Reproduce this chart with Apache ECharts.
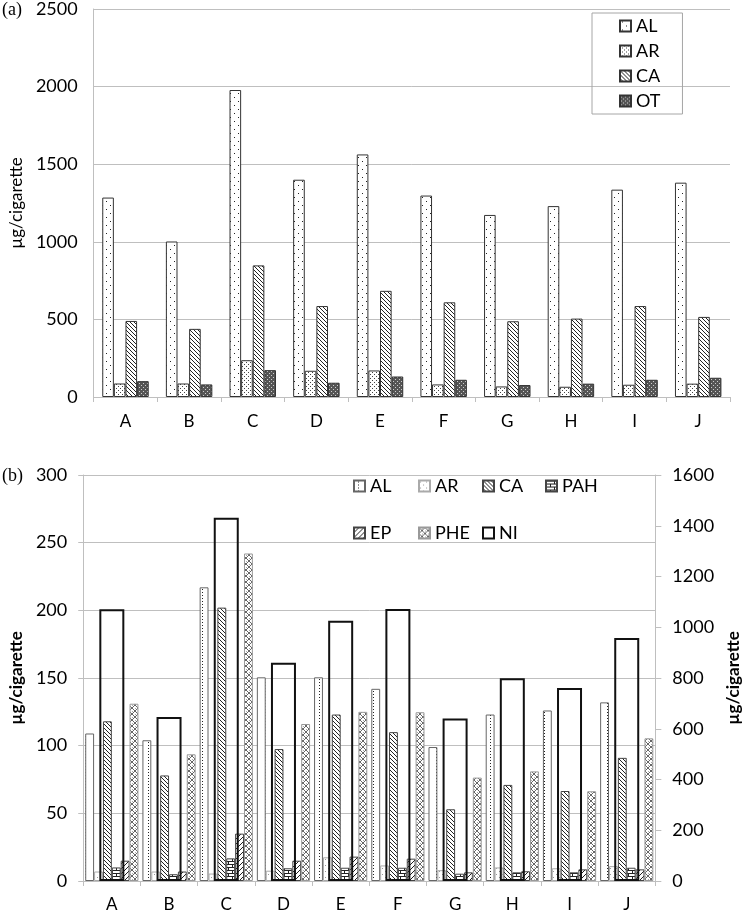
<!DOCTYPE html>
<html>
<head>
<meta charset="utf-8">
<script src="https://cdn.jsdelivr.net/npm/echarts@6/dist/echarts.min.js"></script>
<style>
html,body{margin:0;padding:0;background:#fff;}
#chart{width:750px;height:913px;}
</style>
</head>
<body>
<div id="chart"></div>
<script>
// ---------- data ----------
const categories = ['A','B','C','D','E','F','G','H','I','J'];

// panel (a)
const aAL = [1285, 1002, 1978, 1400, 1563, 1298, 1173, 1230, 1336, 1381];
const aAR = [87, 87, 237, 169, 171, 81, 68, 66, 79, 86];
const aCA = [490, 439, 848, 586, 684, 610, 488, 505, 586, 516];
const aOT = [102, 81, 173, 92, 132, 111, 77, 86, 111, 124];
const aTicks = [0, 500, 1000, 1500, 2000, 2500];

// panel (b)
const bAL  = [109, 104, 217, 150.5, 150.5, 142, 99, 123, 126, 132];
const bAR  = [7, 7, 5.5, 7.6, 17.5, 11.5, 8, 10, 9.4, 11];
const bCA  = [118, 78, 202, 97.5, 123, 110, 53, 71, 66.5, 91];
const bPAH = [10, 5, 16.7, 9.4, 9.8, 9.8, 5.4, 6.4, 6.4, 9.8];
const bEP  = [15, 7, 35, 15, 18, 16.5, 6.4, 7.2, 8.6, 8.6];
const bPHE = [131, 93.6, 242, 116, 125, 124.7, 76.4, 81, 66.3, 105.4];
const bNI  = [1071, 646, 1432, 860, 1026, 1072, 640, 799, 761, 958];
const bLeftTicks = [0, 50, 100, 150, 200, 250, 300];
const bRightTicks = [0, 200, 400, 600, 800, 1000, 1200, 1400, 1600];

// ---------- patterns ----------
function pat(w, h, draw) {
  const c = document.createElement('canvas');
  c.width = w; c.height = h;
  const g = c.getContext('2d');
  g.fillStyle = '#fff'; g.fillRect(0, 0, w, h);
  draw(g);
  return { image: c, repeat: 'repeat' };
}
const pAL_a = pat(8, 8, g => { g.fillStyle = '#222'; g.fillRect(2,1,1,1); g.fillRect(6,5,1,1); });
const pAR_a = pat(4, 4, g => { g.fillStyle = '#444'; g.fillRect(0,0,1,1); g.fillRect(2,2,1,1); });
const pCA = pat(4, 4, g => { g.fillStyle = '#222'; for (let i=0;i<4;i++) g.fillRect(i,i,1,1); });
const pOT = pat(4, 4, g => { g.fillStyle = '#555'; g.fillRect(0,0,4,4); g.fillStyle = '#ccc'; g.fillRect(1,1,1,1); g.fillRect(3,3,1,1); });
const pAL_b = pat(9, 3, g => { g.fillStyle = '#222'; g.fillRect(4,1,1,1); });
const pAR_b = pat(6, 6, g => { g.fillStyle = '#999'; g.fillRect(1,1,1,1); g.fillRect(4,4,1,1); });
const pPAH = pat(8, 6, g => { g.fillStyle = '#222'; g.fillRect(0,0,8,1); g.fillRect(0,3,8,1); g.fillRect(0,0,1,3); g.fillRect(4,3,1,3); });
const pEP = pat(5, 5, g => { g.fillStyle = '#222'; for (let i=0;i<5;i++) g.fillRect(4-i,i,1,1); });
const pPHE = pat(6, 6, g => {
  g.fillStyle = '#666';
  for (let i=0;i<6;i++) { g.fillRect(i,i,1,1); g.fillRect(5-i,i,1,1); }
  g.fillStyle = '#aaa';
  g.fillRect(3,0,1,1); g.fillRect(0,3,1,1);
});

// ---------- chart ----------
const FONT = 'Lato';
const gridColor = '#bfbfbf';
const plain = v => String(v);
const chart = echarts.init(document.getElementById('chart'), null, { renderer: 'canvas' });

function catAxis(gridIndex, margin) {
  return {
    type: 'category', gridIndex: gridIndex, data: categories,
    axisLine: { lineStyle: { color: gridColor, width: 1 } },
    axisTick: { show: true, length: 5, lineStyle: { color: gridColor } },
    axisLabel: { fontFamily: FONT, fontSize: 17, color: '#000', margin: margin }
  };
}

function barA(name, data, color) {
  return {
    type: 'bar', name: name, data: data, xAxisIndex: 0, yAxisIndex: 0,
    barGap: '0%', barCategoryGap: '27%',
    itemStyle: { color: color, borderColor: '#333', borderWidth: 1 }
  };
}
function barB(name, data, color, border) {
  return {
    type: 'bar', name: name + ' ', data: data, xAxisIndex: 1, yAxisIndex: 1,
    barGap: '0%', barCategoryGap: '7%',
    itemStyle: { color: color, borderColor: border, borderWidth: 1 }
  };
}

function legendB(name, left, top) {
  return {
    data: [name + ' '], left: left, top: top, padding: 0,
    icon: 'rect', itemWidth: 11, itemHeight: 11, selectedMode: false,
    formatter: n => n.trim(),
    textStyle: { fontFamily: FONT, fontSize: 18, color: '#000', lineHeight: 18 }
  };
}

const option = {
  animation: false,
  backgroundColor: '#fff',
  grid: [
    { left: 88, right: 20, top: 6, height: 391, containLabel: false },
    { left: 74, right: 78, top: 475, height: 406, containLabel: false }
  ],
  xAxis: [ catAxis(0, 16), catAxis(1, 15), Object.assign(catAxis(1, 15), { show: false }) ],
  yAxis: [
    {
      type: 'value', gridIndex: 0, min: aTicks[0], max: aTicks[aTicks.length-1], interval: 500,
      axisLine: { show: true, lineStyle: { color: gridColor } },
      axisTick: { show: false },
      splitLine: { lineStyle: { color: gridColor } },
      axisLabel: { fontFamily: FONT, fontSize: 18, color: '#000', margin: 16, formatter: plain },
      name: 'µg/cigarette', nameLocation: 'middle', nameGap: 62, nameRotate: 90,
      nameTextStyle: { fontFamily: FONT, fontSize: 17, color: '#000' }
    },
    {
      type: 'value', gridIndex: 1, position: 'left', min: bLeftTicks[0], max: bLeftTicks[bLeftTicks.length-1], interval: 50,
      axisLine: { show: true, lineStyle: { color: gridColor } },
      axisTick: { show: true, length: 5, lineStyle: { color: gridColor } },
      splitLine: { lineStyle: { color: gridColor } },
      axisLabel: { fontFamily: FONT, fontSize: 18, color: '#000', margin: 16, formatter: plain },
      name: 'µg/cigarette', nameLocation: 'middle', nameGap: 51, nameRotate: 90,
      nameTextStyle: { fontFamily: FONT, fontSize: 17, fontWeight: 'bold', color: '#000' }
    },
    {
      type: 'value', gridIndex: 1, position: 'right', min: bRightTicks[0], max: bRightTicks[bRightTicks.length-1], interval: 200,
      axisLine: { show: true, lineStyle: { color: gridColor } },
      axisTick: { show: true, length: 6, lineStyle: { color: gridColor } },
      splitLine: { show: false },
      axisLabel: { fontFamily: FONT, fontSize: 18, color: '#000', margin: 17, formatter: plain },
      name: 'µg/cigarette', nameLocation: 'middle', nameGap: 54, nameRotate: 90,
      nameTextStyle: { fontFamily: FONT, fontSize: 17, fontWeight: 'bold', color: '#000' }
    }
  ],
  legend: [
    {
      data: ['AL', 'AR', 'CA', 'OT'], orient: 'vertical', left: 592, top: 13,
      padding: [4, 22, 4, 27], itemGap: 7, icon: 'rect', itemWidth: 11, itemHeight: 11,
      selectedMode: false, borderColor: '#a6a6a6', borderWidth: 1,
      textStyle: { fontFamily: FONT, fontSize: 18, color: '#000', lineHeight: 18 }
    },
    legendB('AL', 353, 477), legendB('AR', 418, 477), legendB('CA', 482, 477), legendB('PAH', 545, 477),
    legendB('EP', 353, 524), legendB('PHE', 418, 524), legendB('NI', 482, 524)
  ],
  graphic: [
    { type: 'text', left: 2, top: 1, style: { text: '(a)', fontFamily: 'Liberation Serif', fontSize: 18, fill: '#000' } },
    { type: 'text', left: 2, top: 467, style: { text: '(b)', fontFamily: 'Liberation Serif', fontSize: 18, fill: '#000' } }
  ],
  series: [
    barA('AL', aAL, pAL_a),
    barA('AR', aAR, pAR_a),
    barA('CA', aCA, pCA),
    barA('OT', aOT, pOT),
    barB('AL', bAL, pAL_b, '#666'),
    barB('AR', bAR, pAR_b, '#aaa'),
    barB('CA', bCA, pCA, '#444'),
    barB('PAH', bPAH, pPAH, '#444'),
    barB('EP', bEP, pEP, '#444'),
    barB('PHE', bPHE, pPHE, '#999'),
    {
      type: 'bar', name: 'NI ', data: bNI, xAxisIndex: 2, yAxisIndex: 2,
      barWidth: 25, z: 5,
      itemStyle: { color: 'rgba(255,255,255,0)', borderColor: '#111', borderWidth: 2 }
    }
  ]
};
chart.setOption(option);
</script>
</body>
</html>
